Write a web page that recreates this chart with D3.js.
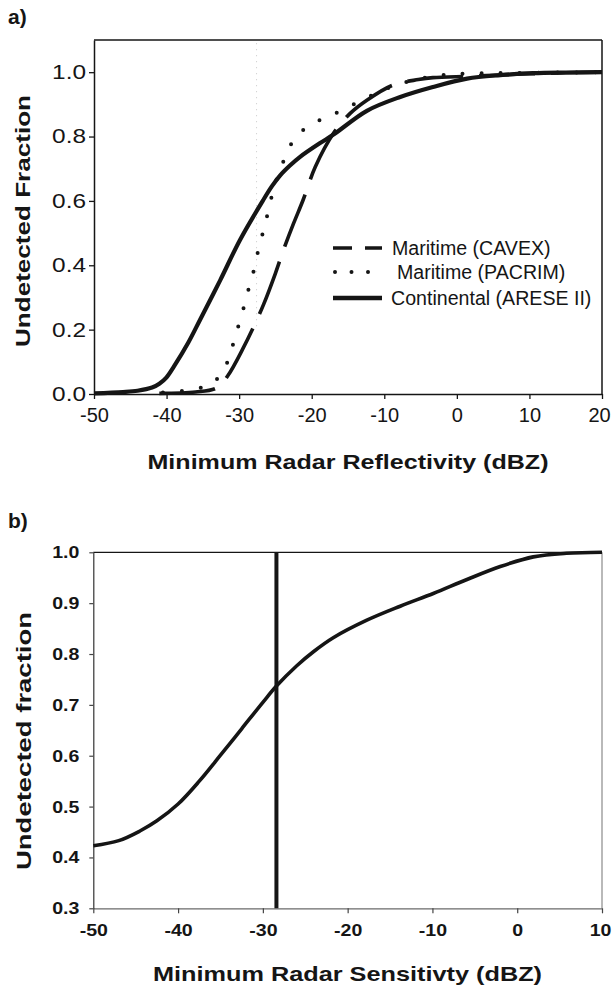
<!DOCTYPE html>
<html><head><meta charset="utf-8">
<script src="https://cdn.jsdelivr.net/npm/d3@7"></script>
<style>
html,body{margin:0;padding:0;background:#fff;}
svg{display:block;font-family:"Liberation Sans",Arial,Helvetica,sans-serif;}
</style></head>
<body>
<svg id="chart" width="612" height="990"></svg>
<script>
// ---------- Panel a data ----------
const aXTicks = [-50, -40, -30, -20, -10, 0, 10, 20];
const aYTicks = [0.0, 0.2, 0.4, 0.6, 0.8, 1.0];
const seriesNames = ["Maritime (CAVEX)", "Maritime (PACRIM)", "Continental (ARESE II)"];

const cavexX = [-41, -36, -33, -31.5, -29.5, -28, -26.6, -25, -23.9, -22.5, -21.2, -19.5, -17, -14.7, -12.4, -8.8, -5.3, -3.3, 1.4, 5, 10, 15, 20];
const cavexY = [0.002, 0.006, 0.02, 0.059, 0.14, 0.209, 0.28, 0.375, 0.447, 0.53, 0.602, 0.706, 0.81, 0.872, 0.913, 0.96, 0.977, 0.983, 0.987, 0.99, 0.995, 0.998, 1.0];

const pacrimX = [-40.5, -37.9, -35.6, -34.2, -33.2, -31.7, -30.9, -30.2, -29.5, -28.9, -28.2, -27.1, -26.4, -25.9, -24.5, -23.5, -22.3, -20, -17.6, -15.2, -12, -9, -6, -3, 0, 5, 10, 15, 20];
const pacrimY = [0.005, 0.009, 0.018, 0.028, 0.043, 0.095, 0.15, 0.204, 0.258, 0.31, 0.364, 0.472, 0.526, 0.58, 0.69, 0.742, 0.796, 0.839, 0.863, 0.889, 0.925, 0.955, 0.975, 0.988, 0.994, 0.997, 0.998, 0.999, 1.0];

const areseX = [-50, -46, -44, -42, -41, -40, -39, -37, -35.4, -32.6, -29.9, -26.7, -25.5, -24.4, -23, -21.6, -18.9, -17, -12.4, -7.8, -3.3, 1.4, 6, 10.5, 15, 20];
const areseY = [0.002, 0.006, 0.01, 0.02, 0.032, 0.052, 0.085, 0.16, 0.23, 0.354, 0.478, 0.602, 0.645, 0.678, 0.71, 0.737, 0.779, 0.806, 0.88, 0.923, 0.954, 0.98, 0.991, 0.997, 0.999, 1.0];

const faintMarkerA = -27.6; // faint grey dotted vertical in panel a

// ---------- Panel b data ----------
const bXTicks = [-50, -40, -30, -20, -10, 0, 10];
const bYTicks = [0.3, 0.4, 0.5, 0.6, 0.7, 0.8, 0.9, 1.0];
const sensX = [-50, -47, -44.5, -42.5, -40, -37.5, -35, -32.5, -30, -28.4, -26, -24, -21.7, -17.8, -13.8, -9.9, -6, -2, 1.9, 5.8, 10];
const sensY = [0.423, 0.433, 0.452, 0.472, 0.505, 0.55, 0.601, 0.653, 0.705, 0.737, 0.777, 0.805, 0.832, 0.866, 0.894, 0.919, 0.946, 0.972, 0.991, 0.998, 1.0];
const radarThreshold = -28.4;

const svg = d3.select("#chart");
const ink = "#151515";
const fmtInt = d => String(d);           // hyphen-minus, as in the original
const fmt1 = d => d.toFixed(1);

function stretchBy(sel, k) {
  sel.each(function () {
    const w = this.getComputedTextLength();
    this.setAttribute("textLength", w * k);
    this.setAttribute("lengthAdjust", "spacingAndGlyphs");
  });
}
function fitTo(sel, len) {
  sel.attr("textLength", len).attr("lengthAdjust", "spacingAndGlyphs");
}
const zip = (xs, ys) => xs.map((x, i) => [x, ys[i]]);
const smooth = d3.curveCatmullRom.alpha(0.5);

// ================= Panel a =================
const xA = d3.scaleLinear().domain([-50, 20]).range([94, 602]);
const yA = d3.scaleLinear().domain([0, 1.1]).range([394, 40]);
const gA = svg.append("g");

gA.append("line")
  .attr("x1", xA(faintMarkerA)).attr("x2", xA(faintMarkerA))
  .attr("y1", yA(1.09)).attr("y2", yA(0.2))
  .attr("stroke", "#c8c8c8").attr("stroke-width", 1).attr("stroke-dasharray", "1,5");

gA.append("line").attr("x1", xA(-50)).attr("x2", xA(20)).attr("y1", yA(1.1)).attr("y2", yA(1.1))
  .attr("stroke", ink).attr("stroke-width", 1.5);
gA.append("line").attr("x1", xA(20)).attr("x2", xA(20)).attr("y1", yA(1.1)).attr("y2", yA(0))
  .attr("stroke", ink).attr("stroke-width", 1.5);

const axAx = gA.append("g").attr("transform", `translate(0,${yA(0)})`)
  .call(d3.axisBottom(xA).tickValues(aXTicks).tickFormat(fmtInt).tickSize(5).tickSizeOuter(0).tickPadding(9));
const axAy = gA.append("g").attr("transform", `translate(${xA(-50)},0)`)
  .call(d3.axisLeft(yA).tickValues(aYTicks).tickFormat(fmt1).tickSize(5).tickSizeOuter(0).tickPadding(3));
[axAx, axAy].forEach(a => {
  a.select(".domain").attr("stroke", ink).attr("stroke-width", 1.5);
  a.selectAll(".tick line").attr("stroke", ink).attr("stroke-width", 1.3);
  a.selectAll("text").attr("fill", ink).attr("font-family", '"Liberation Sans",Arial,sans-serif')
    .attr("font-size", 20);
});
axAx.selectAll("text").attr("dy", "0.71em");
axAx.selectAll(".tick").filter(d => d === 20).select("text").attr("x", -3);
stretchBy(axAy.selectAll("text"), 1.22);

const lineA = d3.line().x(d => xA(d[0])).y(d => yA(d[1])).curve(smooth);
gA.append("path").datum(zip(areseX, areseY)).attr("d", lineA)
  .attr("fill", "none").attr("stroke", ink).attr("stroke-width", 4.2);
gA.append("path").datum(zip(pacrimX, pacrimY)).attr("d", lineA)
  .attr("fill", "none").attr("stroke", ink).attr("stroke-width", 4)
  .attr("stroke-linecap", "round").attr("stroke-dasharray", "0,19");
gA.append("path").datum(zip(cavexX, cavexY)).attr("d", lineA)
  .attr("fill", "none").attr("stroke", ink).attr("stroke-width", 3.6)
  .attr("stroke-dasharray", "56,16");

// legend
const legStyles = [
  { dash: "19,13", w: 3.6, cap: "butt", dx: 0 },
  { dash: "0,16.5", w: 4, cap: "round", dx: 5 },
  { dash: null, w: 4.5, cap: "butt", dx: -1 }
];
const legYs = [248, 272, 298];
const leg = gA.append("g");
seriesNames.forEach((name, i) => {
  const s = legStyles[i];
  const ln = leg.append("line")
    .attr("x1", i === 1 ? 335 : 333).attr("x2", 382)
    .attr("y1", legYs[i]).attr("y2", legYs[i])
    .attr("stroke", ink).attr("stroke-width", s.w).attr("stroke-linecap", s.cap);
  if (s.dash) ln.attr("stroke-dasharray", s.dash);
  leg.append("text").attr("x", 392 + s.dx).attr("y", legYs[i] + 7)
    .attr("font-size", 19.6).attr("fill", ink).text(name);
});

gA.append("text").attr("x", 8).attr("y", 24).attr("font-size", 21).attr("font-weight", "bold")
  .attr("fill", ink).text("a)");
fitTo(gA.append("text").attr("x", 348).attr("y", 469).attr("text-anchor", "middle")
  .attr("font-size", 21).attr("font-weight", "bold").attr("fill", ink)
  .text("Minimum Radar Reflectivity (dBZ)"), 401);
fitTo(gA.append("text").attr("transform", "translate(30,221) rotate(-90)").attr("text-anchor", "middle")
  .attr("font-size", 21).attr("font-weight", "bold").attr("fill", ink)
  .text("Undetected Fraction"), 252);

// ================= Panel b =================
const xB = d3.scaleLinear().domain([-50, 10]).range([93.3, 602]);
const yB = d3.scaleLinear().domain([0.3, 1.0]).range([908.3, 552.3]);
const gB = svg.append("g");

gB.append("line").attr("x1", xB(-50)).attr("x2", xB(10)).attr("y1", yB(1)).attr("y2", yB(1))
  .attr("stroke", ink).attr("stroke-width", 1.2);
gB.append("line").attr("x1", xB(10)).attr("x2", xB(10)).attr("y1", yB(1)).attr("y2", yB(0.3))
  .attr("stroke", "#8a8a8a").attr("stroke-width", 1.2);

const axBx = gB.append("g").attr("transform", `translate(0,${yB(0.3)})`)
  .call(d3.axisBottom(xB).tickValues(bXTicks).tickFormat(fmtInt).tickSize(5).tickSizeOuter(0).tickPadding(11));
const axBy = gB.append("g").attr("transform", `translate(${xB(-50)},0)`)
  .call(d3.axisLeft(yB).tickValues(bYTicks).tickFormat(fmt1).tickSize(4).tickSizeOuter(0).tickPadding(10));
axBx.select(".domain").attr("stroke", "#6a6a6a").attr("stroke-width", 1.2);
axBy.select(".domain").attr("stroke", "#333").attr("stroke-width", 1.2);
[axBx, axBy].forEach(a => {
  a.selectAll(".tick line").attr("stroke", "#444").attr("stroke-width", 1.2);
  a.selectAll("text").attr("fill", ink).attr("font-family", '"Liberation Sans",Arial,sans-serif')
    .attr("font-size", 17).attr("font-weight", "bold");
});
axBx.selectAll("text").attr("dy", "0.71em");
axBx.selectAll(".tick").filter(d => d === 10).select("text").attr("x", -2);
stretchBy(axBx.selectAll("text"), 1.15);
stretchBy(axBy.selectAll("text"), 1.15);

const lineB = d3.line().x(d => xB(d[0])).y(d => yB(d[1])).curve(smooth);
gB.append("path").datum(zip(sensX, sensY)).attr("d", lineB)
  .attr("fill", "none").attr("stroke", ink).attr("stroke-width", 3.6);
gB.append("line").attr("x1", xB(radarThreshold)).attr("x2", xB(radarThreshold))
  .attr("y1", yB(1.0)).attr("y2", yB(0.3))
  .attr("stroke", ink).attr("stroke-width", 4);

gB.append("text").attr("x", 8).attr("y", 528).attr("font-size", 21).attr("font-weight", "bold")
  .attr("fill", ink).text("b)");
fitTo(gB.append("text").attr("x", 347.5).attr("y", 981).attr("text-anchor", "middle")
  .attr("font-size", 21).attr("font-weight", "bold").attr("fill", ink)
  .text("Minimum Radar Sensitivty (dBZ)"), 389);
fitTo(gB.append("text").attr("transform", "translate(31,741) rotate(-90)").attr("text-anchor", "middle")
  .attr("font-size", 21).attr("font-weight", "bold").attr("fill", ink)
  .text("Undetected fraction"), 258);
</script>
</body></html>
